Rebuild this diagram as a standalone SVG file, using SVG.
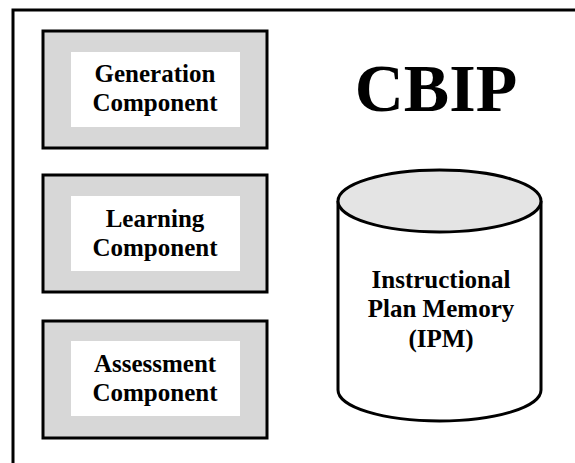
<svg xmlns="http://www.w3.org/2000/svg" width="575" height="463" viewBox="0 0 575 463">
<style>
.frame{fill:none;stroke:#000;stroke-width:3}
.outer{fill:#d7d7d7;stroke:#000;stroke-width:3}
.inner{fill:#fff;stroke:none}
.lbl{font-family:"Liberation Serif","Times New Roman",serif;font-weight:bold;font-size:25px;fill:#000;text-anchor:middle}
.title{font-family:"Liberation Serif","Times New Roman",serif;font-weight:bold;font-size:68px;fill:#000;text-anchor:middle}
.cyl{fill:#fff;stroke:#000;stroke-width:3}
.cyltop{fill:#e4e4e4;stroke:#000;stroke-width:3}
</style>
<rect width="575" height="463" fill="#fff"/>
<rect class="frame" x="13" y="10" width="600" height="500"/>
<g id="generation">
<rect class="outer" x="43" y="31" width="224" height="117"/>
<rect class="inner" x="71" y="52" width="169" height="75"/>
<text class="lbl" x="155" y="82">Generation</text>
<text class="lbl" x="155" y="111">Component</text>
</g>
<g id="learning">
<rect class="outer" x="43" y="175" width="224" height="117"/>
<rect class="inner" x="71" y="196" width="169" height="75"/>
<text class="lbl" x="155" y="227">Learning</text>
<text class="lbl" x="155" y="256">Component</text>
</g>
<g id="assessment">
<rect class="outer" x="43" y="321" width="224" height="117"/>
<rect class="inner" x="71" y="341" width="169" height="75"/>
<text class="lbl" x="155" y="372">Assessment</text>
<text class="lbl" x="155" y="401">Component</text>
</g>
<g id="title">
<text class="title" x="436" y="111">CBIP</text>
</g>
<g id="ipm">
<path class="cyl" d="M338,201 L338,390 A101.5,31 0 0 0 541,390 L541,201"/>
<ellipse class="cyltop" cx="439.5" cy="201" rx="101.5" ry="31"/>
<text class="lbl" x="441" y="288">Instructional</text>
<text class="lbl" x="441" y="317">Plan Memory</text>
<text class="lbl" x="441" y="347">(IPM)</text>
</g>
<g id="connectors"></g>
</svg>
